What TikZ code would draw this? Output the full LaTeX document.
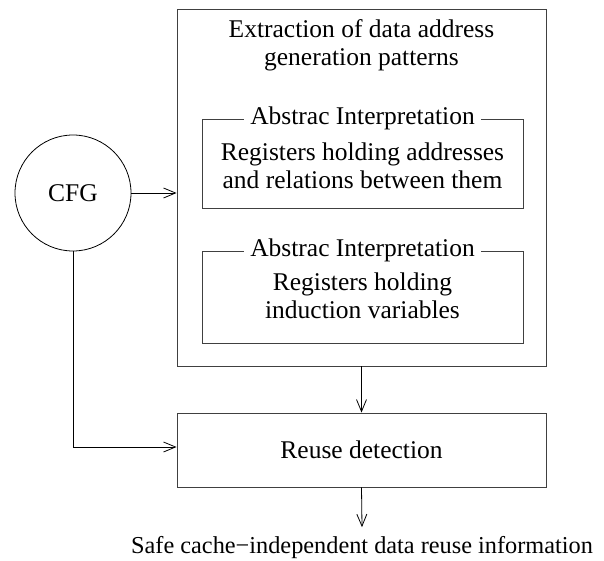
\documentclass[tikz,border=0pt]{standalone}
\usepackage{fontspec}
\setmainfont{Liberation Serif}
\usetikzlibrary{positioning}
\usetikzlibrary{arrows.meta}

\tikzset{
    box/.style={draw=black!75, line width=0.9pt, inner sep=0pt},
    tag/.style={fill=white, inner xsep=6pt, inner ysep=0pt},
    flow/.style={line width=0.8pt, -{Straight Barb[length=12pt,width=10pt]}},
}

\begin{document}
\fontsize{25.5}{28}\selectfont
\begin{tikzpicture}[x=1pt,y=-1pt]
    \useasboundingbox (0,0) rectangle (604,561);
    % outer block
    \node[box, minimum width=369, minimum height=357] (extract) at (361.5,187.5) {};
    \node[align=center] (title) at (361.5,45) {Extraction of data address\\generation patterns};
    % the two analyses
    \node[box, minimum width=321, minimum height=89] (addr) at (362.5,163.5) {};
    \node[tag] (addrtag) at (addr.north) {Abstrac Interpretation};
    \node[align=center] (addrtext) at (362.5,166) {Registers holding addresses\\and relations between them};
    \node[box, minimum width=321, minimum height=92] (induc) at (362.5,297) {};
    \node[tag] (inductag) at (induc.north) {Abstrac Interpretation};
    \node[align=center] (inductext) at (362.5,296) {Registers holding\\induction variables};
    % cfg and reuse
    \node[draw, line width=0.8pt, circle, minimum size=116, inner sep=0pt] (cfg) at (73,193) {CFG};
    \node[box, minimum width=369, minimum height=74] (reuse) at (361.5,450) {Reuse detection};
    \node[anchor=base, font=\fontsize{24.3}{28}\selectfont] (result) at (362,553) {Safe cache{\textminus}independent data reuse information};
    \coordinate (bend) at (73,447);
    % connectors
    \draw[flow] (cfg.east) -- (cfg.east -| extract.west);
    \draw[flow] (extract.south) -- (reuse.north);
    \draw[flow] (cfg.south) -- (bend) -- (bend -| reuse.west);
    \draw[flow] (reuse.south) -- (result.north);
\end{tikzpicture}
\end{document}
